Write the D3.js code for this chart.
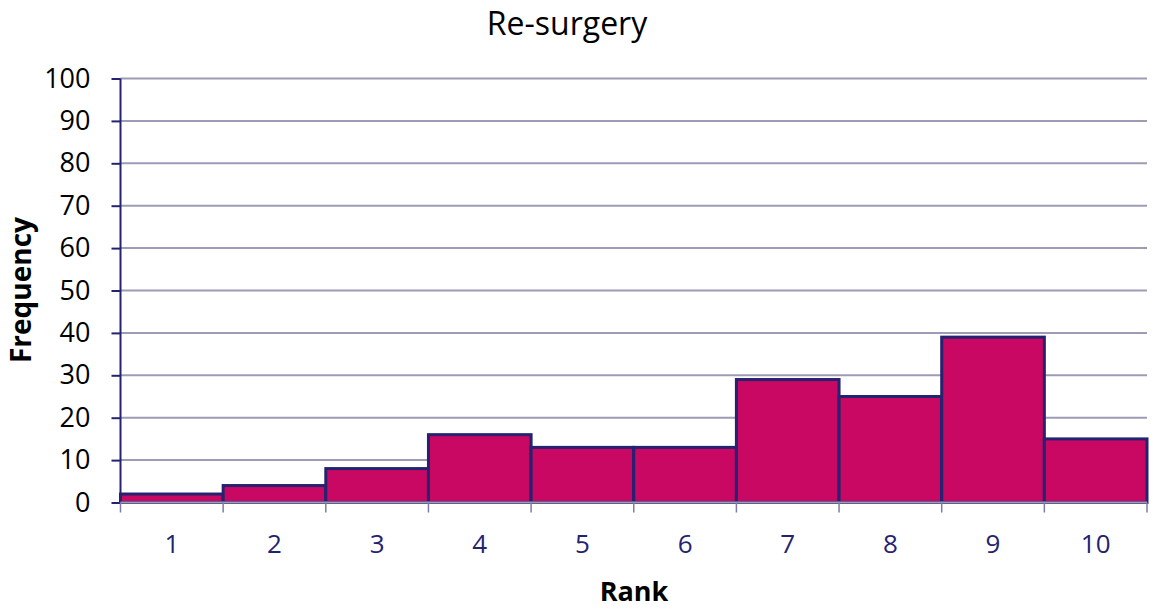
<!DOCTYPE html>
<html>
<head>
<meta charset="utf-8">
<script src="https://cdn.jsdelivr.net/npm/d3@7"></script>
<style>
  body { margin: 0; background: #fff; }
  text { font-family: "Open Sans", "Noto Sans", sans-serif; }
</style>
</head>
<body>
<svg id="chart" width="1153" height="609"></svg>
<script>
// data
const ranks = ["1", "2", "3", "4", "5", "6", "7", "8", "9", "10"];
const frequency = [2, 4, 8, 16, 13, 13, 29, 25, 39, 15];
const yTicks = [0, 10, 20, 30, 40, 50, 60, 70, 80, 90, 100];

const svg = d3.select("#chart"),
  width = +svg.attr("width"),
  height = +svg.attr("height");

const margin = { top: 78.5, right: 6, bottom: 106.5, left: 120.5 };
const plotW = width - margin.left - margin.right;
const plotH = height - margin.top - margin.bottom;

const x = d3.scaleBand().domain(ranks).range([0, plotW]).padding(0);
const y = d3.scaleLinear().domain([0, 100]).range([plotH, 0]);

const navy = "#25226f";

const g = svg.append("g").attr("transform", `translate(${margin.left},${margin.top})`);

// gridlines
g.append("g")
  .selectAll("line")
  .data(yTicks.filter((d) => d > 0))
  .join("line")
  .attr("x1", 0)
  .attr("x2", plotW)
  .attr("y1", (d) => y(d))
  .attr("y2", (d) => y(d))
  .attr("stroke", "#9c9cb6")
  .attr("stroke-width", 2);

// bars
g.append("g")
  .selectAll("rect")
  .data(frequency)
  .join("rect")
  .attr("x", (d, i) => x(ranks[i]))
  .attr("y", (d) => y(d))
  .attr("width", x.bandwidth())
  .attr("height", (d) => plotH - y(d))
  .attr("fill", "#c80863")
  .attr("stroke", navy)
  .attr("stroke-width", 3);

// y axis
const yAxis = g.append("g")
  .call(d3.axisLeft(y).tickValues(yTicks).tickSize(9).tickPadding(21));
yAxis.select(".domain").attr("stroke", navy).attr("stroke-width", 2).attr("d", `M0,${plotH}V0`);
yAxis.selectAll(".tick line").attr("stroke", navy).attr("stroke-width", 2);
yAxis.selectAll(".tick text").attr("fill", "#000").style("font-size", "27px");

// x axis
const xAxis = g.append("g")
  .attr("transform", `translate(0,${plotH})`)
  .call(d3.axisBottom(x).tickSize(0).tickPadding(32));
xAxis.select(".domain").attr("stroke", "#9c9cb6").attr("stroke-width", 2).attr("d", `M0,0H${plotW}`);
xAxis.selectAll(".tick text").attr("fill", navy).style("font-size", "26px");

// x tick marks at band edges
g.append("g")
  .selectAll("line")
  .data(ranks.map((r) => x(r)).concat([plotW]))
  .join("line")
  .attr("x1", (d) => d)
  .attr("x2", (d) => d)
  .attr("y1", plotH)
  .attr("y2", plotH + 10)
  .attr("stroke", "#7c7ca6")
  .attr("stroke-width", 1.5);

// title
svg.append("text")
  .attr("x", 567)
  .attr("y", 35)
  .attr("text-anchor", "middle")
  .style("font-size", "32px")
  .attr("fill", "#000")
  .text("Re-surgery");

// axis titles
svg.append("text")
  .attr("x", 634)
  .attr("y", 601)
  .attr("text-anchor", "middle")
  .style("font-size", "27px")
  .style("font-weight", "bold")
  .text("Rank");

svg.append("text")
  .attr("transform", "translate(31,290) rotate(-90)")
  .attr("text-anchor", "middle")
  .style("font-size", "28px")
  .style("font-weight", "bold")
  .text("Frequency");
</script>
</body>
</html>
